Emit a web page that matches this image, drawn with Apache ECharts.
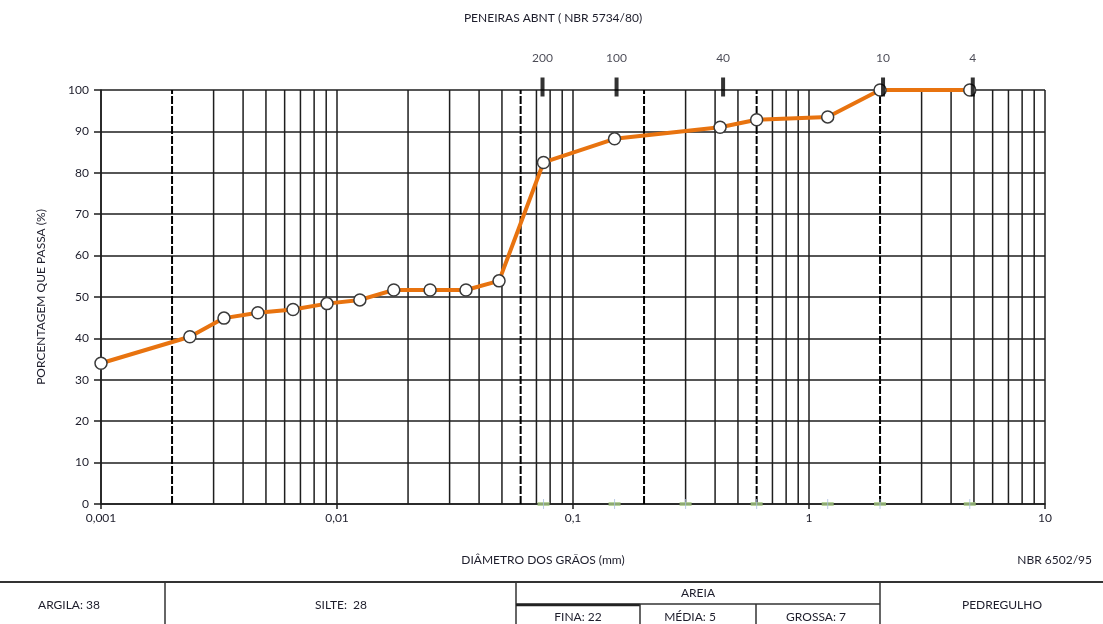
<!DOCTYPE html>
<html>
<head>
<meta charset="utf-8">
<script src="https://cdn.jsdelivr.net/npm/echarts@6/dist/echarts.min.js"></script>
<style>
  html, body { margin: 0; padding: 0; background: #fff; }
  #chart { width: 1103px; height: 624px; }
</style>
</head>
<body>
<div id="chart"></div>
<script>
// Granulometric curve: grain diameter (mm) vs. percentage passing
const diameters = [0.001, 0.00238, 0.00332, 0.00462, 0.00651, 0.00907, 0.0125, 0.0174, 0.0248, 0.0352, 0.0486, 0.075, 0.15, 0.42, 0.6, 1.2, 2.0, 4.8];
const passing   = [34.0, 40.4, 44.9, 46.2, 47.0, 48.4, 49.3, 51.7, 51.7, 51.7, 53.9, 82.5, 88.2, 91.0, 92.8, 93.5, 100, 100];

// ABNT sieves marked along the top edge
const sieveNames = ['200', '100', '40', '10', '4'];
const sieveSizes = [0.075, 0.15, 0.42, 2.0, 4.8];

// Sieve openings marked along the bottom edge
const sieveOpenings = [0.075, 0.15, 0.3, 0.6, 1.2, 2.0, 4.8];

// Limits between clay / silt / fine, medium, coarse sand / gravel (NBR 6502)
const classLimits = [0.002, 0.06, 0.2, 0.6, 2.0];

// Fraction summary shown in the table below the chart
const fractionNames  = ['ARGILA', 'SILTE', 'FINA', 'MÉDIA', 'GROSSA'];
const fractionValues = [38, 28, 22, 5, 7];

const decades = [0.001, 0.01, 0.1, 1];

const FONT = 'Lato';
const TXT = '#1d1d2b';
const GRID = '#1e1e1e';

// secondary log grid lines (2..9 within each decade), skipping class limits
const minorValues = [];
decades.forEach(d => {
  for (let m = 2; m <= 9; m++) {
    const v = +(d * m).toPrecision(3);
    if (!classLimits.some(c => Math.abs(c - v) < 1e-9)) minorValues.push(v);
  }
});

function verticalLine(v, style, z) {
  return {
    type: 'line',
    data: [[v, 0], [v, 100]],
    symbol: 'none',
    silent: true,
    lineStyle: style,
    z: z
  };
}

const gridSeries = minorValues.map(v => verticalLine(v, { color: GRID, width: 1.5 }, 1));
const limitSeries = classLimits.map(v => verticalLine(v, { color: '#000', width: 2, type: [8, 2] }, 2));

// per-marker nudges of the top sieve ticks
const sieveTickNudge = [-1, 2, 3, 3, 3];

const chart = echarts.init(document.getElementById('chart'), null, { renderer: 'canvas' });

chart.setOption({
  backgroundColor: '#fff',
  animation: false,
  textStyle: { fontFamily: FONT, color: TXT },
  title: {
    text: 'PENEIRAS ABNT ( NBR 5734/80)',
    left: 548, top: 7, textAlign: 'center',
    textStyle: { fontFamily: FONT, fontSize: 12, fontWeight: 'normal', color: TXT }
  },
  grid: { left: 101, right: 58, top: 90, bottom: 120 },
  xAxis: {
    type: 'log',
    logBase: 10,
    min: 0.001,
    max: 10,
    axisLine: { lineStyle: { color: GRID, width: 1.5 } },
    axisTick: { show: true, length: 5, lineStyle: { color: GRID, width: 1.5 } },
    axisLabel: {
      fontFamily: FONT, fontSize: 12, color: TXT, margin: 8,
      formatter: v => String(+v.toPrecision(3)).replace('.', ',')
    },
    splitLine: { show: true, lineStyle: { color: GRID, width: 1.5 } }
  },
  yAxis: {
    type: 'value',
    min: 0,
    max: 100,
    interval: 10,
    name: 'PORCENTAGEM QUE PASSA (%)',
    nameLocation: 'middle',
    nameGap: 54,
    nameRotate: 90,
    nameTextStyle: { fontFamily: FONT, fontSize: 12, color: TXT },
    axisLine: { show: true, lineStyle: { color: GRID, width: 1.5 } },
    axisTick: { show: true, length: 7, lineStyle: { color: GRID, width: 1.5 } },
    axisLabel: { fontFamily: FONT, fontSize: 12, color: TXT, margin: 12 },
    splitLine: { show: true, lineStyle: { color: GRID, width: 1.5 } }
  },
  series: [
    ...gridSeries,
    ...limitSeries,
    {
      // sieve openings on the bottom edge
      type: 'scatter',
      data: sieveOpenings.map(v => [v, 0]),
      symbol: 'rect',
      symbolSize: [12, 4],
      itemStyle: { color: '#a6c886' },
      silent: true,
      z: 3
    },
    {
      type: 'scatter',
      data: sieveOpenings.map(v => [v, 0]),
      symbol: 'rect',
      symbolSize: [1, 10],
      itemStyle: { color: '#aabfdd' },
      silent: true,
      z: 4
    },
    {
      // grading curve
      type: 'line',
      data: diameters.map((d, i) => [d, passing[i]]),
      lineStyle: { color: '#e8730f', width: 4 },
      symbol: 'circle',
      symbolSize: 12,
      showAllSymbol: true,
      itemStyle: { color: '#ffffff', borderColor: '#3a3a3a', borderWidth: 1.5 },
      z: 5
    },
    {
      // ABNT sieve markers along the top
      type: 'scatter',
      data: sieveSizes.map((v, i) => ({
        value: [v, 100],
        name: sieveNames[i],
        symbolOffset: [sieveTickNudge[i], -3]
      })),
      symbol: 'rect',
      symbolSize: [4, 19],
      itemStyle: { color: '#000' },
      label: {
        show: true,
        position: 'top',
        distance: 13,
        formatter: p => p.name,
        fontFamily: FONT, fontSize: 12, color: TXT
      },
      silent: true,
      z: 6
    }
  ],
  graphic: [
    {
      type: 'text', x: 543, y: 560,
      style: { text: 'DIÂMETRO DOS GRÃOS (mm)', font: '12px ' + FONT, fill: TXT, align: 'center', verticalAlign: 'middle' }
    },
    {
      type: 'text', x: 1092, y: 560,
      style: { text: 'NBR 6502/95', font: '12px ' + FONT, fill: TXT, align: 'right', verticalAlign: 'middle' }
    },
    // summary table
    { type: 'line', shape: { x1: 0, y1: 582, x2: 1103, y2: 582 }, style: { stroke: '#333', lineWidth: 1.8 } },
    { type: 'line', shape: { x1: 165, y1: 582, x2: 165, y2: 624 }, style: { stroke: '#333', lineWidth: 1.5 } },
    { type: 'line', shape: { x1: 516, y1: 582, x2: 516, y2: 624 }, style: { stroke: '#333', lineWidth: 1.5 } },
    { type: 'line', shape: { x1: 880, y1: 582, x2: 880, y2: 624 }, style: { stroke: '#333', lineWidth: 1.5 } },
    { type: 'line', shape: { x1: 516, y1: 604, x2: 880, y2: 604 }, style: { stroke: '#333', lineWidth: 1.5 } },
    { type: 'line', shape: { x1: 516, y1: 605, x2: 640, y2: 605 }, style: { stroke: '#222', lineWidth: 2.5 } },
    { type: 'line', shape: { x1: 640, y1: 604, x2: 640, y2: 624 }, style: { stroke: '#333', lineWidth: 1.5 } },
    { type: 'line', shape: { x1: 756, y1: 604, x2: 756, y2: 624 }, style: { stroke: '#333', lineWidth: 1.5 } },
    {
      type: 'text', x: 69, y: 605,
      style: { text: fractionNames[0] + ': ' + fractionValues[0], font: '12px ' + FONT, fill: TXT, align: 'center', verticalAlign: 'middle' }
    },
    {
      type: 'text', x: 341, y: 605,
      style: { text: fractionNames[1] + ':  ' + fractionValues[1], font: '12px ' + FONT, fill: TXT, align: 'center', verticalAlign: 'middle' }
    },
    {
      type: 'text', x: 698, y: 593,
      style: { text: 'AREIA', font: '12px ' + FONT, fill: TXT, align: 'center', verticalAlign: 'middle' }
    },
    {
      type: 'text', x: 578, y: 617,
      style: { text: fractionNames[2] + ': ' + fractionValues[2], font: '12px ' + FONT, fill: TXT, align: 'center', verticalAlign: 'middle' }
    },
    {
      type: 'text', x: 690, y: 617,
      style: { text: fractionNames[3] + ': ' + fractionValues[3], font: '12px ' + FONT, fill: TXT, align: 'center', verticalAlign: 'middle' }
    },
    {
      type: 'text', x: 816, y: 617,
      style: { text: fractionNames[4] + ': ' + fractionValues[4], font: '12px ' + FONT, fill: TXT, align: 'center', verticalAlign: 'middle' }
    },
    {
      type: 'text', x: 1002, y: 605,
      style: { text: 'PEDREGULHO', font: '12px ' + FONT, fill: TXT, align: 'center', verticalAlign: 'middle' }
    }
  ]
});
</script>
</body>
</html>
